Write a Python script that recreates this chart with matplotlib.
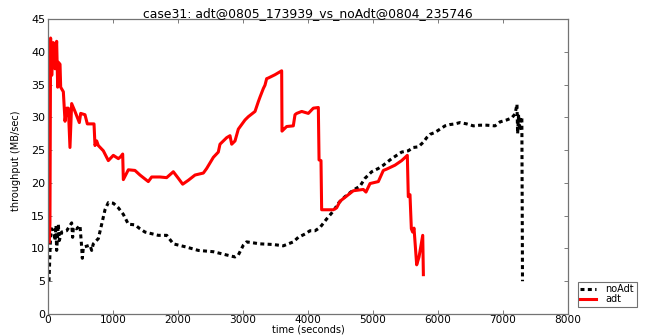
import matplotlib
matplotlib.use("Agg")
import matplotlib.pyplot as plt

title = "case31: adt@0805_173939_vs_noAdt@0804_235746"

adt_t = [20, 30, 40, 57, 82, 108, 133, 149, 159, 185, 195, 236, 262, 287, 313, 338, 364,
         415, 482, 503, 569, 605, 708, 723, 749, 774, 851, 928, 1005, 1082, 1118, 1149,
         1159, 1236, 1338, 1415, 1543, 1595, 1723, 1825, 1928, 2005, 2072, 2159, 2262,
         2390, 2441, 2544, 2620, 2646, 2749, 2800, 2826, 2877, 2928, 3031, 3082, 3185,
         3236, 3262, 3313, 3338, 3364, 3390, 3492, 3595, 3600, 3620, 3672, 3774, 3800,
         3826, 3903, 4005, 4082, 4159, 4170, 4200, 4210, 4390, 4441, 4492, 4595, 4697,
         4851, 4892, 4954, 5082, 5159, 5210, 5338, 5441, 5528, 5543, 5569, 5590, 5610,
         5631, 5672, 5708, 5765, 5775]
adt_v = [11.0, 13.9, 42.1, 36.4, 41.4, 37.4, 41.6, 34.6, 38.4, 38.1, 34.6, 33.9, 29.4,
         31.4, 31.4, 25.4, 32.1, 30.9, 29.2, 30.6, 30.4, 29.0, 29.0, 25.7, 26.4, 25.7,
         24.9, 23.4, 24.2, 23.7, 24.0, 24.4, 20.5, 22.0, 21.9, 21.2, 20.2, 20.9, 20.9,
         20.8, 21.7, 20.7, 19.8, 20.4, 21.2, 21.5, 22.2, 23.9, 24.7, 25.9, 26.9, 27.2,
         25.9, 26.4, 28.2, 29.6, 30.1, 30.9, 32.4, 33.1, 34.4, 34.9, 35.9, 36.0, 36.5,
         37.1, 27.9, 28.1, 28.6, 28.7, 30.4, 30.6, 30.9, 30.6, 31.4, 31.5, 23.5, 23.4,
         15.9, 15.9, 16.2, 17.2, 18.0, 18.8, 19.0, 18.6, 19.9, 20.2, 21.9, 22.1, 22.7,
         23.4, 24.2, 17.9, 18.2, 13.0, 12.5, 13.1, 7.5, 8.7, 12.0, 6.0]

noadt_t = [15, 40, 57, 82, 108, 123, 133, 159, 174, 210, 287, 364, 379, 390, 441, 492,
           518, 528, 544, 646, 672, 697, 774, 826, 877, 928, 1005, 1082, 1159, 1236, 1338,
           1415, 1492, 1697, 1826, 1928, 2133, 2313, 2544, 2749, 2877, 2928, 3005, 3056,
           3262, 3467, 3620, 3774, 3851, 3954, 4031, 4108, 4185, 4287, 4390, 4467, 4569,
           4697, 4800, 4877, 4980, 5082, 5159, 5287, 5441, 5543, 5620, 5697, 5774, 5826,
           5877, 5954, 6031, 6108, 6185, 6262, 6338, 6441, 6544, 6646, 6749, 6877, 6954,
           7056, 7133, 7185, 7215, 7225, 7240, 7255, 7270, 7290, 7300]
noadt_v = [5.0, 12.0, 13.0, 12.7, 11.2, 13.5, 9.7, 13.7, 11.2, 12.5, 12.7, 13.9, 11.7,
           13.2, 13.0, 13.5, 10.2, 8.5, 10.2, 10.5, 9.7, 10.7, 11.5, 13.7, 15.9, 17.0,
           16.9, 16.2, 15.2, 13.7, 13.6, 13.0, 12.5, 12.0, 12.0, 10.7, 10.2, 9.7, 9.5,
           9.0, 8.7, 9.0, 10.5, 11.0, 10.7, 10.6, 10.4, 11.0, 11.7, 12.2, 12.7, 12.7,
           13.2, 14.5, 15.7, 16.9, 17.9, 18.9, 19.5, 20.7, 21.7, 22.2, 22.7, 23.7, 24.7,
           24.9, 25.4, 25.5, 26.2, 26.9, 27.4, 27.7, 28.2, 28.7, 28.9, 29.0, 29.2, 29.0,
           28.7, 28.8, 28.8, 28.7, 29.3, 29.6, 29.9, 30.5, 32.0, 27.5, 30.5, 28.0, 30.0,
           30.0, 5.0]

x_ticks = [0, 1000, 2000, 3000, 4000, 5000, 6000, 7000, 8000]
y_ticks = [0, 5, 10, 15, 20, 25, 30, 35, 40, 45]

AX_BOTTOM_PX = 314
AX_TOP_PX = 19
ax_h = AX_BOTTOM_PX - AX_TOP_PX

fig = plt.figure(figsize=(6.45, 3.35), dpi=100)
ax = fig.add_axes([48/645, 1 - AX_BOTTOM_PX/335, 520/645, ax_h/335])

ax.plot(noadt_t, noadt_v, color="black", lw=2.2, linestyle=(0, (1.3, 1.1)), label="noAdt")
ax.plot(adt_t, adt_v, color="red", lw=2.2, label="adt")

ax.set_xlim(0, 8000)
ax.set_ylim(0, 45)
ax.set_xticks(x_ticks)
ax.set_yticks(y_ticks)
ax.tick_params(direction="in", top=True, right=True, length=3, width=0.6,
               labelsize=8, pad=2, color="0.4")
ax.tick_params(axis="x", pad=0.5, labelsize=7.6)
for s in ax.spines.values():
    s.set_color("0.45")
    s.set_linewidth(0.9)

ax.set_title(title, fontsize=8.9, pad=1.5)
ax.set_xlabel("time (seconds)", fontsize=7, va="bottom")
ax.xaxis.set_label_coords(0.5, -(335 - AX_BOTTOM_PX - 0.6) / ax_h)
ax.set_ylabel("throughput (MB/sec)", fontsize=7,
              family=["Liberation Sans Narrow", "DejaVu Sans"])
ax.yaxis.set_label_coords(-27/520, 0.52)

leg_top_frac = (AX_BOTTOM_PX - 282) / ax_h
leg = ax.legend(loc="upper left", bbox_to_anchor=(1.019, leg_top_frac), borderaxespad=0,
                fontsize=7, frameon=True, fancybox=False, handlelength=1.6,
                borderpad=0.25, labelspacing=0.0, handletextpad=1.0)
leg.get_frame().set_edgecolor("0.3")
leg.get_frame().set_linewidth(0.8)

fig.savefig("out.png", dpi=100)
